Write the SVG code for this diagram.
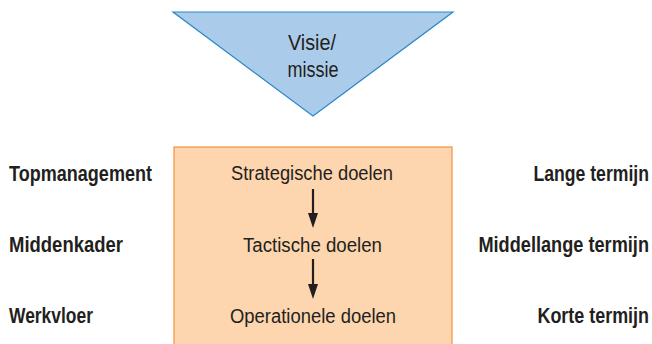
<svg xmlns="http://www.w3.org/2000/svg" width="652" height="344" viewBox="0 0 652 344">
  <style>
    .t { font-family: "Liberation Sans Narrow", "Liberation Sans", Arial, sans-serif; fill: #231f20; }
    .c { font-size: 19.5px; text-anchor: middle; }
    .b { font-size: 21.5px; font-weight: bold; }
    .r { text-anchor: end; }
    .conn { stroke: #231f20; stroke-width: 2.2; fill: none; }
    .head { fill: #231f20; }
  </style>
  <rect width="652" height="344" fill="#ffffff"/>

  <!-- vision / mission -->
  <g id="visie">
    <polygon points="173,12 453,12 313,116" fill="#abcbea" stroke="#2a88c8" stroke-width="1.2"/>
    <text class="t c" x="312" y="49.5" style="font-size:22px" textLength="48" lengthAdjust="spacingAndGlyphs">Visie/</text>
    <text class="t c" x="313" y="77" style="font-size:22px" textLength="51" lengthAdjust="spacingAndGlyphs">missie</text>
  </g>

  <!-- goals block -->
  <g id="doelen">
    <rect x="174" y="147" width="278" height="200" fill="#fdd5ae" stroke="#f5923e" stroke-width="1.2"/>
  </g>
  <g id="strategisch">
    <text class="t c" x="312" y="180" textLength="162" lengthAdjust="spacingAndGlyphs">Strategische doelen</text>
  </g>
  <g id="tactisch">
    <text class="t c" x="312.5" y="252" textLength="139" lengthAdjust="spacingAndGlyphs">Tactische doelen</text>
  </g>
  <g id="operationeel">
    <text class="t c" x="313" y="323" textLength="166" lengthAdjust="spacingAndGlyphs">Operationele doelen</text>
  </g>

  <!-- connectors -->
  <g id="connectors">
    <line class="conn" x1="313" y1="189" x2="313" y2="214"/>
    <path class="head" d="M308,213 L318,213 L313,228 Z"/>
    <line class="conn" x1="313" y1="259" x2="313" y2="285"/>
    <path class="head" d="M308,284 L318,284 L313,299 Z"/>
  </g>

  <!-- levels -->
  <g id="topmanagement">
    <text class="t b" x="9" y="181" textLength="143" lengthAdjust="spacingAndGlyphs">Topmanagement</text>
  </g>
  <g id="middenkader">
    <text class="t b" x="9" y="252" textLength="114" lengthAdjust="spacingAndGlyphs">Middenkader</text>
  </g>
  <g id="werkvloer">
    <text class="t b" x="9" y="323" textLength="84" lengthAdjust="spacingAndGlyphs">Werkvloer</text>
  </g>

  <!-- horizons: condensed by a horizontal scale -->
  <g id="lange-termijn" transform="translate(649,181) scale(0.82,1)">
    <text class="t b r" x="0" y="0" textLength="141" lengthAdjust="spacingAndGlyphs">Lange termijn</text>
  </g>
  <g id="middellange-termijn" transform="translate(649,252) scale(0.82,1)">
    <text class="t b r" x="0" y="0" textLength="208" lengthAdjust="spacingAndGlyphs">Middellange termijn</text>
  </g>
  <g id="korte-termijn" transform="translate(649,323) scale(0.82,1)">
    <text class="t b r" x="0" y="0" textLength="136" lengthAdjust="spacingAndGlyphs">Korte termijn</text>
  </g>
</svg>
